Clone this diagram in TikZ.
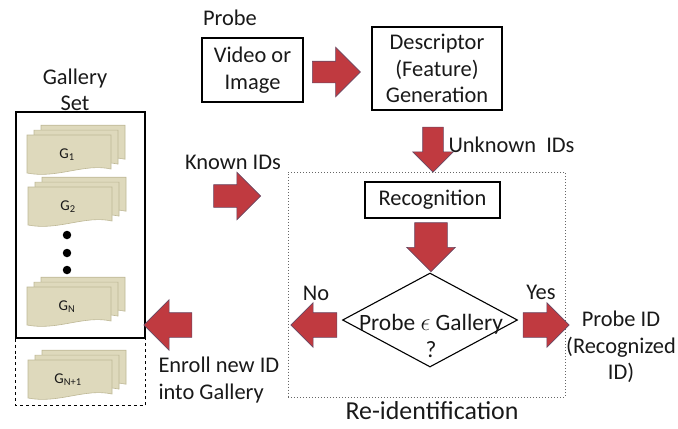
\documentclass[tikz,border=0pt]{standalone}
\usepackage{fontspec}
\setmainfont{Carlito}
\usetikzlibrary{shapes.geometric,shapes.arrows,positioning}
\definecolor{arrred}{RGB}{192,58,64}
\definecolor{arredge}{RGB}{105,72,98}
\definecolor{cardtan}{RGB}{222,217,188}
\definecolor{cardedge}{RGB}{190,184,150}

\begin{document}
\begin{tikzpicture}[x=1bp,y=-1bp,
  every node/.style={font=\fontsize{22.5}{26.5}\selectfont,text=black!90,align=center},
  box/.style={draw,line width=1.1bp,inner sep=0pt},
  fat/.style n args={3}{single arrow,draw=arredge,fill=arrred,line width=0.6bp,inner sep=#2*0.5bp,minimum height=#1bp,minimum width=0pt,single arrow head extend=#3bp},
  card/.style={fill=cardtan,draw=cardedge,line width=0.6bp},
  pics/cardstack/.style={code={
    \foreach \o in {14,7,0}
      \draw[card,shift={(\o,-\o*0.7)}] (-42,-19) -- (42,-19) -- (42,15) .. controls (15,9) and (-12,25) .. (-42,19) -- cycle;
    \node[font=\fontsize{15}{18}\selectfont] (-lbl) at (-2,1) {#1};
  }}
]
  \useasboundingbox (0,0) rectangle (678,428);

  % probe and descriptor
  \node (probe) at (230,18) {Probe};
  \node (video) [box,minimum width=101bp,minimum height=64bp] at (252.5,70) {Video or\\Image};
  \node (desc) [box,minimum width=130bp,minimum height=83bp] at (437,68.5) {Descriptor\\(Feature)\\Generation};
  \node (a1) [fat={48}{21}{14}] at (331,72) {};
  \node (a2) [fat={45}{20}{10},shape border rotate=270] at (433,144.5) {};
  \node (unknown) [anchor=west] at (445,145) {Unknown~~IDs};

  % re-identification
  \node (reid) [draw=black!60,dotted,line width=1bp,minimum width=277bp,minimum height=225bp] at (426.5,284.5) {};
  \node (recog) [box,minimum width=135bp,minimum height=36bp] at (432.5,200) {Recognition};
  \node (a3) [fat={42}{32}{8},shape border rotate=270] at (431,239) {};
  \node (dec) [diamond,draw,line width=1.1bp,minimum width=175bp,minimum height=94bp,inner sep=0pt] at (430,320) {};
  \node (dectxt) [font=\fontsize{23.5}{27}\selectfont] at (431,336) {Probe $\epsilon$ Gallery\\?};
  \node (a4) [fat={46}{24}{10},shape border rotate=180] at (320,325) {};
  \node (no) at (316,293) {No};
  \node (a5) [fat={46}{24}{10}] at (540,325) {};
  \node (yes) at (541,292) {Yes};
  \node (pid) at (621,347) {Probe ID\\(Recognized\\ID)};
  \node (reidlbl) [font=\fontsize{26}{30}\selectfont] at (432,411) {Re-identification};

  % gallery
  \node (galttl) at (75,90) {Gallery\\Set};
  \node (gallery) [draw,line width=1.1bp,minimum width=129bp,minimum height=226bp] at (80.5,225) {};
  \draw[dashed,line width=1bp] (gallery.south west) -- ++(0,67) -| (gallery.south east);
  \pic (g1) at (69,154) {cardstack={G\textsubscript{1}}};
  \pic (g2) at (70,206) {cardstack={G\textsubscript{2}}};
  \pic (gn) at (69,306) {cardstack={G\textsubscript{N}}};
  \pic (gn1) at (70,379) {cardstack={G\textsubscript{N+1}}};
  \foreach \y [count=\i] in {235,253,270}
    \node (dot\i) [circle,fill=black,inner sep=3bp] at (67,\y) {};

  \node (a6) [fat={47}{22}{12.5}] at (231.5,196) {};
  \node (known) at (233,162) {Known IDs};
  \node (a7) [fat={48}{24}{13},shape border rotate=180] at (174,325) {};
  \node (enroll) [align=left,anchor=west] at (155,380) {Enroll new ID\\into Gallery};
\end{tikzpicture}
\end{document}
